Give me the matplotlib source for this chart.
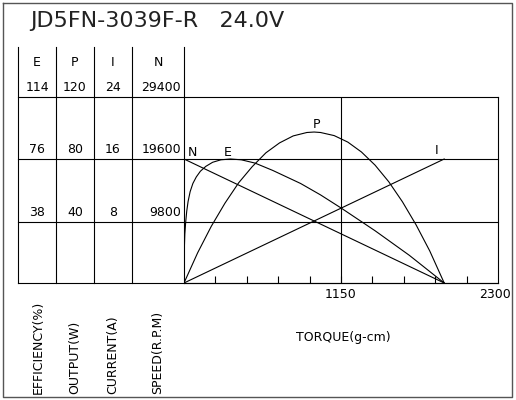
import matplotlib
matplotlib.use("Agg")
import matplotlib.pyplot as plt

title = "JD5FN-3039F-R   24.0V"
col_heads = ["E", "P", "I", "N"]
e_ticks = ["114", "76", "38"]
p_ticks = ["120", "80", "40"]
i_ticks = ["24", "16", "8"]
n_ticks = ["29400", "19600", "9800"]
axis_names = ["EFFICIENCY(%)", "OUTPUT(W)", "CURRENT(A)", "SPEED(R.P.M)"]
x_labels = ["1150", "2300"]

# curves (torque g-cm)
n_torque = [0, 1906]
n_speed = [19600, 0]
i_torque = [0, 1906]
i_current = [0, 16]
e_torque = [0, 2, 6, 12, 20, 30, 45, 65, 90, 120, 160, 210, 270, 340, 420, 520, 650, 854, 1000, 1150, 1400, 1650, 1906]
e_eff = [0, 20, 30, 37, 44, 50, 56, 61, 65, 68.5, 71.5, 74, 75.5, 76, 75.5, 73.5, 69, 61, 54, 46, 32, 17, 0]
p_torque = [0, 100, 200, 300, 400, 500, 600, 700, 800, 900, 953, 1000, 1100, 1200, 1300, 1400, 1500, 1600, 1700, 1800, 1906]
p_out = [0, 19.5, 36.6, 51.5, 64.6, 75.1, 84.0, 90.4, 94.9, 97.1, 97.4, 97.1, 95.1, 90.9, 84.5, 76.0, 65.3, 52.4, 37.5, 20.7, 0]

W, H = 516, 400
fig = plt.figure(figsize=(W/100, H/100), dpi=100)
bg = fig.add_axes([0, 0, 1, 1])
bg.set_xlim(0, W); bg.set_ylim(H, 0); bg.axis("off")
lw = 0.8
k = dict(color="black", lw=lw)
# outer border
bg.plot([3, 512, 512, 3, 3], [3, 3, 397, 397, 3], color="#555555", lw=1.0)
bg.text(30, 21, title, fontsize=16, va="center", ha="left", color="#222222")
# table
cols = [18, 56, 94, 132, 184]
for x in cols[:-1]:
    bg.plot([x, x], [47, 283], **k)
bg.plot([184, 184], [47, 97], **k)
rows = [97, 159, 222, 283]
for y in rows:
    bg.plot([18, 498], [y, y], **k)
centers = [37, 75, 113, 158]
fs = 9
for c, h in zip(centers, col_heads):
    bg.text(c, 62, h, ha="center", va="center", fontsize=fs)
for r, y in enumerate(rows[:3]):
    bg.text(37, y-3, e_ticks[r], ha="center", va="bottom", fontsize=fs)
    bg.text(75, y-3, p_ticks[r], ha="center", va="bottom", fontsize=fs)
    bg.text(113, y-3, i_ticks[r], ha="center", va="bottom", fontsize=fs)
    bg.text(181, y-3, n_ticks[r], ha="right", va="bottom", fontsize=fs)
for x, s in zip([38, 75, 113, 158], axis_names):
    bg.text(x, 394, s, rotation=90, ha="center", va="bottom", fontsize=fs)
bg.text(343, 337, "TORQUE(g-cm)", ha="center", va="center", fontsize=fs)
bg.text(341, 294, x_labels[0], ha="center", va="center", fontsize=fs)
bg.text(511, 294, x_labels[1], ha="right", va="center", fontsize=fs)

# chart axes
ax = fig.add_axes([184/W, 1-283/H, (498-184)/W, (283-97)/H])
ax.set_xlim(0, 2300); ax.set_ylim(0, 120)
ax.patch.set_alpha(0)
for s in ax.spines.values():
    s.set_linewidth(lw)
ax.spines["top"].set_visible(False)
ax.set_xticks([230*i for i in range(1, 10)])
ax.set_yticks([])
ax.tick_params(axis="x", direction="in", length=5, width=lw, labelbottom=False)
ax.axvline(1150, **k)
ax.plot(n_torque, [v*120/29400 for v in n_speed], **k)
ax.plot(i_torque, [v*120/24 for v in i_current], **k)
ax.plot(e_torque, [v*120/114 for v in e_eff], **k)
ax.plot(p_torque, p_out, **k)
bg.text(192, 152, "N", ha="center", va="center", fontsize=fs)
bg.text(228, 152, "E", ha="center", va="center", fontsize=fs)
bg.text(316, 124, "P", ha="center", va="center", fontsize=fs)
bg.text(437, 150, "I", ha="center", va="center", fontsize=fs)
fig.savefig("out.png", dpi=100)
